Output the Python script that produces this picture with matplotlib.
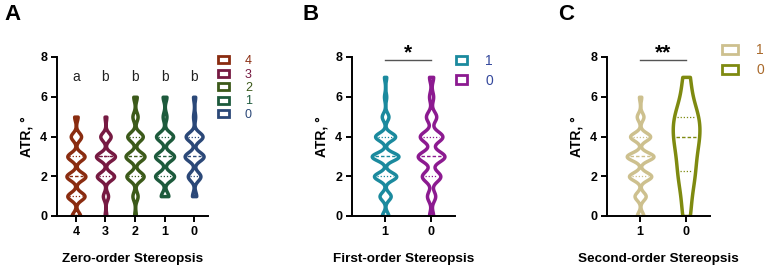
import numpy as np
import matplotlib.pyplot as plt
from matplotlib.patches import Patch

plt.rcParams['font.family'] = ['Liberation Sans', 'DejaVu Sans']

# ATR values (deg) and estimated counts per value, per group
vals = np.arange(0, 8)

a_labels = ['4', '3', '2', '1', '0']
a_counts = [
    [5, 10, 11, 10, 6, 2, 0, 0],
    [1, 3, 10, 11, 6, 1, 0, 0],
    [1, 3, 10, 11, 9, 3, 2, 0],
    [0, 4, 10, 10, 9, 2, 2, 0],
    [0, 2, 6, 9, 8, 1, 1, 0],
]
a_colors = ['#8a2c10', '#761a42', '#3c5a1a', '#1d5a3c', '#2b4878']
a_letters = ['a', 'b', 'b', 'b', 'b']

b_labels = ['1', '0']
b_counts = [
    [3, 5, 10, 12, 9, 3, 1, 1],
    [2, 4, 9, 13, 11, 5, 2, 2],
]
b_colors = ['#1b8a9e', '#8c1a90']
b_text = '#34489c'
b_sig = '*'

c_labels = ['1', '0']
c_counts = [
    [3, 5, 10, 12, 9, 3, 1, 0],
    [1, 1, 2, 2, 3, 3, 1, 1],
]
c_colors = ['#cdc08e', '#7e8a10']
c_text = '#a9692a'
c_sig = '**'

sigmas_a = [0.2, 0.2, 0.22, 0.22, 0.22]
sigmas_b = [0.2, 0.26]
sigmas_c = [0.2, 0.75]


def width_at(body, pos, y):
    v = body.get_paths()[0].vertices
    r = v[v[:, 0] > pos]
    o = np.argsort(r[:, 1])
    return np.interp(y, r[o, 1], r[o, 0]) - pos


def violins(ax, counts, colors, sigmas, width):
    data = [np.repeat(vals, c).astype(float) for c in counts]
    pos = np.arange(1, len(data) + 1)
    for d, p, col, s in zip(data, pos, colors, sigmas):
        vp = ax.violinplot([d], positions=[p], widths=width, showextrema=False,
                           bw_method=lambda k, s=s: s / np.std(k.dataset, ddof=1),
                           points=400)
        body = vp['bodies'][0]
        body.set_facecolor('white')
        body.set_edgecolor(col)
        body.set_linewidth(2.5)
        body.set_alpha(1)
        q1, med, q3 = np.percentile(d, [25, 50, 75])
        for q, ls, lw in [(q1, (0, (1, 1.5)), 0.9), (med, (0, (2.5, 1.5)), 1.0), (q3, (0, (1, 1.5)), 0.9)]:
            w = width_at(body, p, q) - 0.07
            if w > 0:
                ax.hlines(q, p - w, p + w, color=col, linestyle=ls, lw=lw)
    return pos


def style(ax, pos, labels, xlabel, xlim):
    ax.set_ylim(0, 8)
    ax.set_xlim(*xlim)
    ax.set_yticks([0, 2, 4, 6, 8])
    ax.set_xticks(pos)
    ax.set_xticklabels(labels)
    for sp in ['top', 'right']:
        ax.spines[sp].set_visible(False)
    for sp in ['left', 'bottom']:
        ax.spines[sp].set_linewidth(1.4)
    ax.tick_params(width=1.4, length=4, labelsize=9, pad=3)
    for t in ax.get_xticklabels() + ax.get_yticklabels():
        t.set_fontweight('bold')
    ax.set_ylabel('ATR, °', fontsize=10, fontweight='bold', labelpad=5)
    ax.set_xlabel(xlabel, fontsize=9.7, fontweight='bold', labelpad=11)


def legend(ax, labels, colors, tcolors, anchor, fs, sp, hl, hh):
    h = [Patch(facecolor='white', edgecolor=c, lw=2) for c in colors]
    ax.legend(h, labels, loc='upper left', bbox_to_anchor=anchor,
              bbox_transform=fig.transFigure, frameon=False,
              handlelength=hl, handleheight=hh, handletextpad=1.3,
              labelspacing=sp, fontsize=fs, labelcolor=tcolors,
              borderaxespad=0, borderpad=0)


fig = plt.figure(figsize=(7.67, 2.66), dpi=100)
H = 266
W = 767
bot = (H - 216) / H
hgt = (216 - 57) / H

axA = fig.add_axes([57 / W, bot, (208 - 57) / W, hgt])
axB = fig.add_axes([352 / W, bot, (455 - 352) / W, hgt])
axC = fig.add_axes([607 / W, bot, (710 - 607) / W, hgt])

pos = violins(axA, a_counts, a_colors, sigmas_a, 0.64)
style(axA, pos, a_labels, 'Zero-order Stereopsis', (0.36, 5.47))
for p, t in zip(pos, a_letters):
    axA.text(p, 7.0, t, ha='center', va='center', fontsize=10, color='#222222')
legend(axA, a_labels, a_colors, a_colors, (218 / W, (H - 55) / H), 9, 0.12, 0.85, 0.5)

for ax, counts, cols, sig, labels, tcol, sg, xlabel in [
        (axB, b_counts, b_colors, b_sig, b_labels, b_text, sigmas_b, 'First-order Stereopsis'),
        (axC, c_counts, c_colors, c_sig, c_labels, c_text, sigmas_c, 'Second-order Stereopsis')]:
    pos = violins(ax, counts, cols, sg, 0.58)
    style(ax, pos, labels, xlabel, (0.28, 2.52))
    ax.plot([1, 2], [7.85, 7.85], color='#555555', lw=1, clip_on=False)
    ax.text(1.5, 7.72, sig, ha='center', va='bottom', fontsize=15, fontweight='bold', clip_on=False)

legend(axB, b_labels, b_colors, [b_text] * 2, (456 / W, (H - 54) / H), 10, 0.4, 0.8, 0.55)
legend(axC, c_labels, c_colors, [c_text] * 2, (722 / W, (H - 43) / H), 10, 0.45, 1.15, 0.6)

fig.text(4 / W, (H - 15) / H, 'A', fontsize=16, fontweight='bold', va='center')
fig.text(303 / W, (H - 14) / H, 'B', fontsize=16, fontweight='bold', va='center')
fig.text(558 / W, (H - 14) / H, 'C', fontsize=16, fontweight='bold', va='center')

fig.savefig('out.png', dpi=100)
